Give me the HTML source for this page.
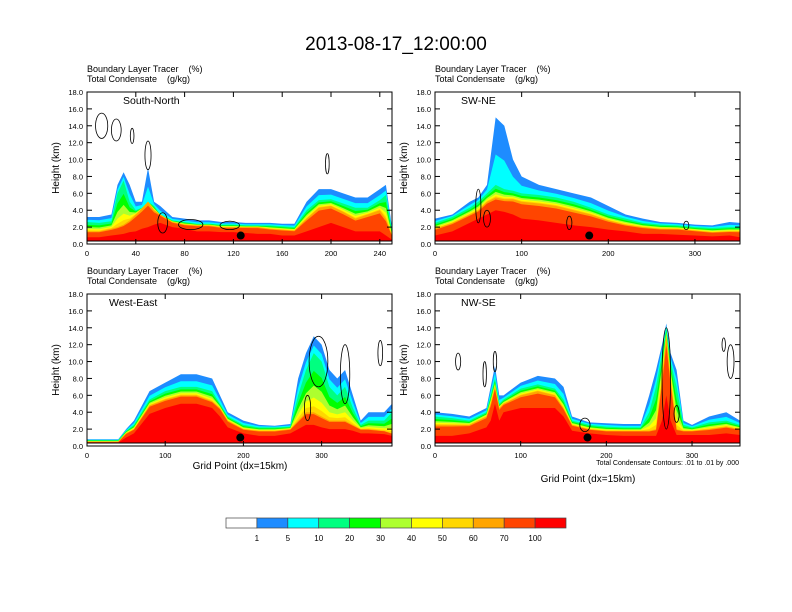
<!DOCTYPE html>
<html><head><meta charset="utf-8"><style>
body{margin:0;background:#fff;}
svg{display:block;font-family:"Liberation Sans",sans-serif;}
text{white-space:pre;}
</style></head><body>
<svg id="s" width="792" height="612" viewBox="0 0 792 612">
<text x="396" y="50" font-size="19" text-anchor="middle">2013-08-17_12:00:00</text>
</svg>
<script>
// Panel data: layer top heights (km) at sample grid points
const xsSN=[0,10,20,25,30,35,40,45,50,55,60,70,80,90,100,110,120,130,140,150,160,170,180,190,200,210,220,230,240,245,250];
const blueSN=[3.2,3.2,3.5,7,8.5,7,5,5,9,5,4.5,3.2,3.0,2.8,2.8,2.6,2.6,2.5,2.5,2.5,2.4,2.4,5,6.5,6.5,6,5.5,5.5,6.5,7,2];
const greenSN=[2.6,2.5,2.7,6,7.5,5,4,4.3,5,4.5,3.5,2.8,2.6,2.4,2.4,2.3,2.3,2.2,2.2,2.2,2.1,2.0,4,5.2,5.3,4.8,4.3,4.3,5.2,5.8,1.5];
const orangeSN=[1.5,1.5,1.8,2.0,2.3,2.8,3.5,4.2,5,4,3.5,2.6,2.3,2.2,2.2,2.0,2.0,2,2,1.8,1.7,1.6,3,4.3,4.5,3.8,3,3.5,4,3,1];
const redSN=[0.8,0.8,1,1.1,1.2,1.4,1.5,1.8,2,2.3,2.5,2,1.8,1.5,1.5,1.4,1.4,1.3,1.2,1.2,1.0,1.0,1.5,2,2.5,2,1.5,1.5,1.5,1,0.5];
// condensate contours: centre x (grid), centre height (km), half-width (grid), half-height (km)
const cxSN=[12,24,37,50,197,62,85,117];
const cySN=[14,13.5,12.8,10.5,9.5,2.5,2.3,2.2];
const rxSN=[5,4,1.5,2.5,1.5,4,10,8];
const rySN=[1.5,1.3,0.9,1.7,1.2,1.2,0.6,0.5];

const xsSW=[0,20,40,50,60,70,80,90,100,120,140,160,180,200,220,240,260,280,300,320,340,352];
const blueSW=[3,3.5,5,5.5,7,15,14,10,8,7,6.5,6,5.5,4.5,3.5,3,2.6,2.5,2.3,2.2,2.6,2.5];
const greenSW=[2.5,3.2,4.3,5,6,7,6.5,6.3,6,5.8,5.5,5,4.3,3.5,3,2.5,2.3,2.2,2,1.9,2,2];
const orangeSW=[1.8,2.5,3.5,4,5,5.5,5.3,5.3,5,4.8,4.5,4,3.5,2.8,2.3,2,1.8,1.8,1.6,1.4,1.5,1.5];
const redSW=[1,1.5,2.5,3,3.5,4,3.8,3.5,3,2.8,2.5,2.2,2,1.7,1.5,1.2,1.2,1.1,1,0.9,1,0.8];
const cxSW=[50,60,155,290];
const cySW=[4.5,3,2.5,2.2];
const rxSW=[3,4,3,3];
const rySW=[2,1,0.8,0.5];

const xsWE=[0,20,40,50,60,80,100,120,140,160,170,180,200,220,240,260,270,280,290,300,310,320,330,340,350,360,380,390];
const blueWE=[0.8,0.8,0.8,2,3,6.5,7.5,8.5,8.5,8,6,4,3,2.5,2.4,2.6,8,11,13,12,9,8,9,6,3,4,4,5];
const greenWE=[0.7,0.7,0.7,1.8,2.5,5.5,6.5,7,7,6.5,5,3.5,2.5,2.2,2.2,2.3,6,9,11,10,7,6,7,4.5,2.5,3,3,4];
const orangeWE=[0.5,0.5,0.5,1.5,2,4.8,5.5,6,6,5.3,4.5,3,2,1.8,1.8,2,3,4,4,3.5,3,3,3,2.5,2,2,1.8,1.5];
const redWE=[0.4,0.4,0.4,1,1.5,3.8,4.5,5,5,4.5,3.5,2.2,1.5,1.2,1.2,1.5,2,2.5,2.5,2.2,2,2,2,1.8,1.5,1.5,1.4,1.2];
const cxWE=[296,330,282,375];
const cyWE=[10,8.5,4.5,11];
const rxWE=[12,6,4,3];
const ryWE=[3,3.5,1.5,1.5];

const xsNW=[0,20,40,60,65,70,75,80,100,120,140,150,160,180,200,220,240,250,258,265,270,275,282,290,300,320,340,356];
const blueNW=[4,3.8,3.5,4.5,7,9.5,6,6,7.5,8.3,8,7,3.5,2.8,2.7,2.6,2.6,6,9,12,14.5,11,9,3,2.5,3.5,4,3];
const greenNW=[3.5,3.3,3,4,6,8,5,5.5,6.8,7.3,6.8,5.5,3,2.5,2.3,2.2,2.2,4,7,11,14,10,7,2.5,2.2,2.8,3,2.5];
const orangeNW=[2.5,2.5,2.5,3.5,5,7,4.5,5,6,6.5,6,4.5,2.5,2,1.8,1.8,1.8,1.8,2,8,13,8,2,1.8,1.8,2,2.3,2];
const redNW=[1.2,1.2,1.5,2.2,3,5,3,4,4.5,4.5,4.5,3.5,1.8,1.5,1.3,1.2,1.2,1.2,1.2,3,6,3,1.3,1.3,1.3,1.3,1.5,1.3];
const cxNW=[27,58,70,270,282,337,345,175];
const cyNW=[10,8.5,10,8,3.8,12,10,2.5];
const rxNW=[3,2,2,5,3,2,4,6];
const ryNW=[1,1.5,1.2,6,1,0.8,2,0.8];

const levels=["1","5","10","20","30","40","50","60","70","100"];
const barColors=["#ffffff","#1e8cff","#00ffff","#00ff80","#00ff00","#adff2f","#ffff00","#ffd700","#ffa500","#ff4500","#ff0000"];

const svg=document.getElementById('s');
const NS="http://www.w3.org/2000/svg";
function mk(t,a,p){const e=document.createElementNS(NS,t);for(const k in a)e.setAttribute(k,a[k]);(p||svg).appendChild(e);return e;}

function panel(o){
  const g=mk('g',{});
  
  
  const X=v=>o.x0+(o.x1-o.x0)*v/o.xmax, Y=v=>o.y1-(o.y1-o.y0)*Math.min(18,v)/18;
  const sx=(o.x1-o.x0)/o.xmax, sy=(o.y1-o.y0)/18;
  const area=(top,col)=>{
    let d='M'+X(o.xs[0])+','+Y(0);
    o.xs.forEach((x,i)=>{d+=' L'+X(x)+','+Y(Math.max(0,top[i]));});
    d+=' L'+X(o.xs[o.xs.length-1])+','+Y(0)+'Z';
    const p=mk('path',{d:d,fill:col},g);
    
    
  };
  const mid=(a,b,f)=>a.map((v,i)=>b[i]+(v-b[i])*f);
  area(o.blue,"#1e8cff");
  area(mid(o.blue,o.green,0.45),"#00ffff");
  area(o.green,"#00ff80");
  area(mid(o.green,o.orange,0.7),"#00ff00");
  area(mid(o.green,o.orange,0.45),"#adff2f");
  area(mid(o.green,o.orange,0.25),"#ffff00");
  area(mid(o.green,o.orange,0.1),"#ffd700");
  area(o.orange,"#ffa500");
  area(mid(o.orange,o.red,0.85),"#ff4500");
  area(o.red,"#ff0000");
  const tr=mk('rect',{x:o.x0,y:Y(0.35),width:o.x1-o.x0,height:Y(0)-Y(0.35),fill:"#fff"},g);
  
  
  mk('line',{x1:o.x0,x2:o.x1,y1:Y(0.35),y2:Y(0.35),stroke:"#000","stroke-width":1},g);
  o.cx.forEach((c,i)=>{
    const e=mk('ellipse',{cx:X(c),cy:Y(o.cy[i]),rx:o.rx[i]*sx,ry:o.ry[i]*sy,fill:"none",stroke:"#000","stroke-width":0.8},g);
    
    
  });
  const fr=mk('rect',{x:o.x0,y:o.y0,width:o.x1-o.x0,height:o.y1-o.y0,fill:"none",stroke:"#000","stroke-width":1},g);
  
  
  for(let h=0;h<=18;h+=2){
    mk('line',{x1:o.x0,x2:o.x0+5,y1:Y(h),y2:Y(h),stroke:"#000"},g);
    mk('line',{x1:o.x1,x2:o.x1-5,y1:Y(h),y2:Y(h),stroke:"#000"},g);
    const t=mk('text',{x:o.x0-4,y:Y(h)+3,'font-size':7.5,'text-anchor':'end'},g);t.textContent=h.toFixed(1);
    
    
  }
  o.ticks.forEach(v=>{
    mk('line',{x1:X(v),x2:X(v),y1:o.y1,y2:o.y1-5,stroke:"#000"},g);
    mk('line',{x1:X(v),x2:X(v),y1:o.y0,y2:o.y0+5,stroke:"#000"},g);
    const t=mk('text',{x:X(v),y:o.y1+12,'font-size':7.5,'text-anchor':'middle'},g);t.textContent=v;
    
    
  });
  const yt=mk('text',{x:0,y:0,'font-size':10,'text-anchor':'middle',transform:`translate(${o.x0-28},${(o.y0+o.y1)/2}) rotate(-90)`},g);yt.textContent="Height (km)";
  
  
  const t1=mk('text',{x:o.x0,y:o.y0-20,'font-size':9},g);t1.textContent="Boundary Layer Tracer    (%)";
  
  
  const t2=mk('text',{x:o.x0,y:o.y0-10,'font-size':9},g);t2.textContent="Total Condensate    (g/kg)";
  
  
  const lb=mk('text',{x:o.x0+(o.lx||36),y:o.y0+12,'font-size':10.5},g);lb.textContent=o.label;
  
  
  const dot=mk('circle',{cx:X(o.dot),cy:Y(1),r:4,fill:"#000"},g);
  
  
  return g;
}
panel({name:'panel-south-north',x0:87,x1:392,y0:92,y1:244,xmax:250,xs:xsSN,blue:blueSN,green:greenSN,orange:orangeSN,red:redSN,cx:cxSN,cy:cySN,rx:rxSN,ry:rySN,ticks:[0,40,80,120,160,200,240],label:"South-North",dot:126});
panel({name:'panel-sw-ne',x0:435,x1:740,y0:92,y1:244,xmax:352,xs:xsSW,blue:blueSW,green:greenSW,orange:orangeSW,red:redSW,cx:cxSW,cy:cySW,rx:rxSW,ry:rySW,ticks:[0,100,200,300],label:"SW-NE",dot:178,lx:26});
panel({name:'panel-west-east',x0:87,x1:392,y0:294,y1:446,xmax:390,xs:xsWE,blue:blueWE,green:greenWE,orange:orangeWE,red:redWE,cx:cxWE,cy:cyWE,rx:rxWE,ry:ryWE,ticks:[0,100,200,300],label:"West-East",dot:196,lx:22});
panel({name:'panel-nw-se',x0:435,x1:740,y0:294,y1:446,xmax:356,xs:xsNW,blue:blueNW,green:greenNW,orange:orangeNW,red:redNW,cx:cxNW,cy:cyNW,rx:rxNW,ry:ryNW,ticks:[0,100,200,300],label:"NW-SE",dot:178,lx:26});

const gx1=mk('text',{x:240,y:469,'font-size':10,'text-anchor':'middle'});gx1.textContent="Grid Point (dx=15km)";


const gx2=mk('text',{x:588,y:482,'font-size':10,'text-anchor':'middle'});gx2.textContent="Grid Point (dx=15km)";


const note=mk('text',{x:739,y:465,'font-size':7,'text-anchor':'end'});note.textContent="Total Condensate Contours: .01 to .01 by .000";



const cbx=226,cbw=340,cby=518,cbh=10,n=barColors.length,bw=cbw/n;
barColors.forEach((c,i)=>{
  const r=mk('rect',{x:cbx+i*bw,y:cby,width:bw,height:cbh,fill:c,stroke:"#444","stroke-width":0.7});
  
  
});
levels.forEach((l,i)=>{
  const t=mk('text',{x:cbx+(i+1)*bw,y:cby+23,'font-size':8,'text-anchor':'middle'});t.textContent=l;
  
  
});
</script>
</body></html>
